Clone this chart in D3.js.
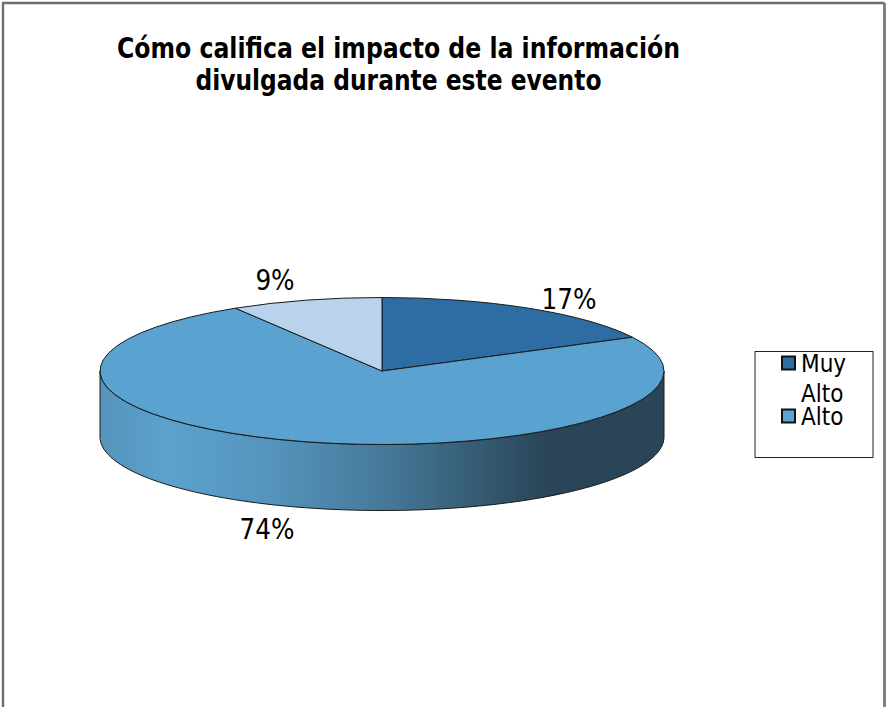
<!DOCTYPE html>
<html><head><meta charset="utf-8">
<script src="https://cdn.jsdelivr.net/npm/d3@7"></script>
<style>html,body{margin:0;padding:0;background:#fff;overflow:hidden}svg{display:block}
text{font-family:"DejaVu Sans Condensed","DejaVu Sans",sans-serif;fill:#000}</style>
</head><body><script>
const titleLines = ["Cómo califica el impacto de la información", "divulgada durante este evento"];
const titleWidths = [563, 406];
const categories = ["Muy Alto", "Alto", "Otro"];
const values = [17.4, 73.9, 8.7];
const labels = ["17%", "74%", "9%"];
const colors = ["#2e6ca4", "#5aa2d0", "#b9d3ec"];
const legendItems = [{lines:["Muy","Alto"],color:"#2e6ca4"},{lines:["Alto"],color:"#5aa2d0"}];
const labelPos = [[569,309],[267,539],[275,290]];
const sideStops = [[0,"#5593bb"],[0.12,"#5ba2cf"],[0.3,"#5594bc"],[0.5,"#467a9a"],[0.79,"#2a4558"],[1,"#2a4558"]];

const W=886,H=707,cx=382,cy=371,rx=282,ry=73.5,depth=66;
const svg=d3.select("body").append("svg").attr("width",W).attr("height",H);
const defs=svg.append("defs");
const g=defs.append("linearGradient").attr("id","side").attr("gradientUnits","userSpaceOnUse")
 .attr("x1",cx-rx).attr("x2",cx+rx).attr("y1",0).attr("y2",0);
sideStops.forEach(s=>g.append("stop").attr("offset",s[0]).attr("stop-color",s[1]));

// frame
svg.append("path").attr("d",d3.line()([[3,707],[3,3],[884.5,3]])).attr("fill","none").attr("stroke","#6e6e6e").attr("stroke-width",2.4);
svg.append("path").attr("d",d3.line()([[884.5,3],[884.5,707]])).attr("fill","none").attr("stroke","#808080").attr("stroke-width",3);

// title
svg.append("g").selectAll("text").data(titleLines).join("text")
 .attr("x",398.5).attr("y",(d,i)=>58+i*32).attr("text-anchor","middle")
 .attr("font-size",28).attr("font-weight","bold")
 .attr("textLength",(d,i)=>titleWidths[i]).attr("lengthAdjust","spacingAndGlyphs").text(d=>d);

// pie
const pie=d3.pie().sort(null).value(d=>d)(values);
const x=t=>cx+rx*Math.sin(t), y=t=>cy-ry*Math.cos(t);
const front=d3.range(90,271,2).map(a=>a*Math.PI/180);
const sidePts=front.map(t=>[x(t),y(t)+depth]).concat(front.slice().reverse().map(t=>[x(t),y(t)]));
svg.append("path").attr("d",d3.line()(sidePts)+"Z").attr("fill","url(#side)").attr("stroke","#1a1a1a").attr("stroke-width",1);

const arc=d3.arc().innerRadius(0).outerRadius(rx);
svg.append("g").attr("transform",`translate(${cx},${cy}) scale(1,${ry/rx})`)
 .selectAll("path").data(pie).join("path").attr("d",arc)
 .attr("fill",(d,i)=>colors[i]).attr("stroke","#1a1a1a").attr("stroke-width",1)
 .attr("vector-effect","non-scaling-stroke");

// labels
svg.append("g").selectAll("text").data(labels).join("text")
 .attr("x",(d,i)=>labelPos[i][0]).attr("y",(d,i)=>labelPos[i][1]).attr("text-anchor","middle")
 .attr("font-size",27.5).text(d=>d);

// legend
svg.append("rect").attr("x",755).attr("y",351.5).attr("width",118).attr("height",106)
 .attr("fill","#fff").attr("stroke","#222").attr("stroke-width",1);
const ly=[356.5,409.5], base=[372,425];
legendItems.forEach((it,i)=>{
 svg.append("rect").attr("x",782).attr("y",ly[i]).attr("width",13).attr("height",13)
  .attr("fill",it.color).attr("stroke","#111").attr("stroke-width",2);
 it.lines.forEach((l,j)=>svg.append("text").attr("x",801).attr("y",base[i]+j*29.5).attr("font-size",24).text(l));
});
</script></body></html>
